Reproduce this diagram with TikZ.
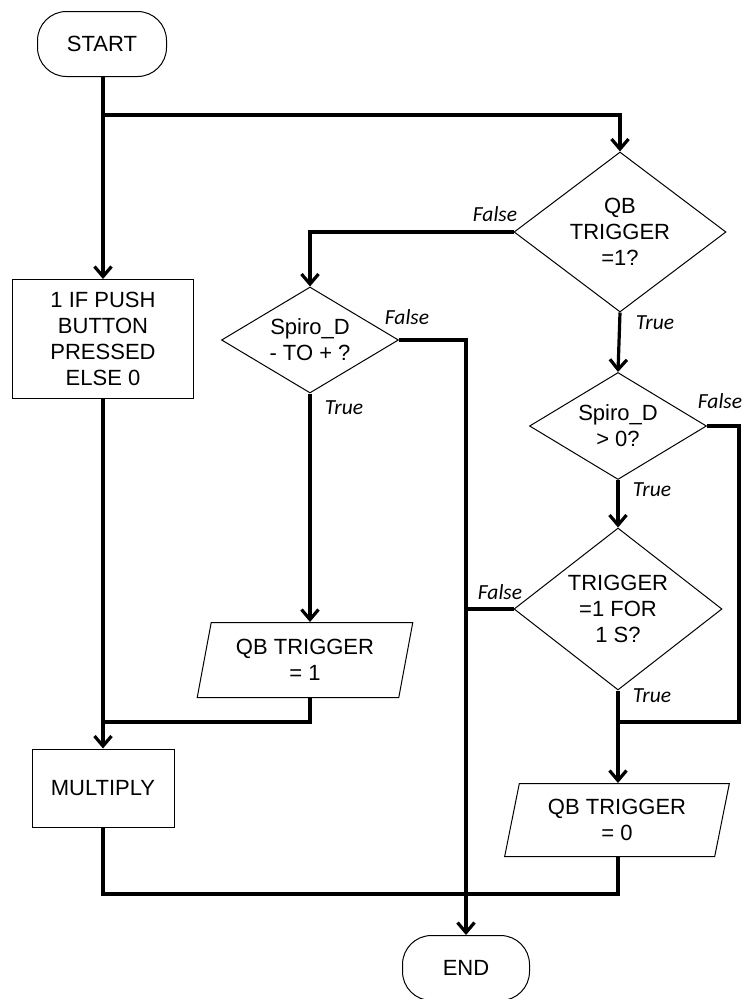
\documentclass[tikz,border=0pt]{standalone}
\usepackage{fontspec}
\setmainfont{Liberation Sans}
\newfontfamily\lblfont{Carlito}
\usetikzlibrary{arrows.meta, shapes.geometric, positioning}
\tikzset{>={Straight Barb[length=10pt,width=17pt]}}
\tikzset{font=\fontsize{22}{26}\selectfont}
\tikzset{
  terminal/.style={draw, line width=1pt, rounded corners=29pt,
    minimum width=129pt, minimum height=65pt},
  procbox/.style={draw, line width=1pt, align=center,
    inner sep=0pt},
  decide/.style={draw, diamond, line width=1pt, align=center,
    inner sep=0pt},
  iobox/.style={draw, trapezium, trapezium left angle=76,
    trapezium right angle=104, trapezium stretches=true,
    line width=1pt, align=center, inner sep=0pt},
  flow/.style={->, line width=3.2pt},
  wire/.style={line width=3.2pt},
  branch/.style={font=\lblfont\itshape\fontsize{21.5}{24}\selectfont, inner sep=0pt}
}

\begin{document}
\begin{tikzpicture}[x=1pt, y=-1pt]
          \useasboundingbox (0,0) rectangle (742,999);
          % shapes
          \node[terminal] (start) at (102,44) {START};
          \node[procbox, minimum width=181pt, minimum height=119pt] (push) at (103,339)
            {1 IF PUSH\\BUTTON\\PRESSED\\ELSE 0};
          \node[procbox, minimum width=142pt, minimum height=78pt] (mult) at (103,788) {MULTIPLY};
          \node[decide, shape aspect=1.32, minimum width=212pt, minimum height=160pt] (qb) at (620,232)
            {QB\\TRIGGER\\=1?};
          \node[decide, shape aspect=1.67, minimum width=177pt, minimum height=106pt] (spiroa) at (310,340)
            {Spiro\_D\\- TO + ?};
          \node[iobox, minimum width=216pt, minimum height=75pt] (seta) at (305,660)
            {QB TRIGGER\\= 1};
          \node[decide, shape aspect=1.67, minimum width=177pt, minimum height=107pt] (spirob) at (618,426)
            {Spiro\_D\\> 0?};
          \node[decide, shape aspect=1.28, minimum width=208pt, minimum height=162pt] (trig) at (618,609)
            {TRIGGER\\=1 FOR\\1 S?};
          \node[iobox, minimum width=225pt, minimum height=73pt] (setz) at (617,820)
            {QB TRIGGER\\= 0};
          \node[terminal, minimum width=127pt] (stop) at (466,968) {END};
          % joints
          \coordinate (split) at (103,115);
          \coordinate (joinl) at (103,722);
          \coordinate (joinr) at (618,722);
          \coordinate (rail) at (739,722);
          \coordinate (joinb) at (466,894);
          % connectors
          \draw[flow] (start.south -| push) -- (push);
          \draw[flow] (split) -| (qb.north);
          \draw[flow] (qb.west) -| (spiroa.north);
          \draw[flow] (spiroa.south) -- (spiroa.south |- seta.north);
          \draw[flow] (spiroa.east) -| (stop.north);
          \draw[wire] (seta.south -| spiroa.south) |- (joinl);
          \draw[flow] (push) -- (mult);
          \draw[wire] (mult.south) |- (joinb);
          \draw[flow] (qb.south) -- (spirob.north);
          \draw[wire] (spirob.east) -| (rail) -- (joinr);
          \draw[flow] (spirob.south) -- (trig.north);
          \draw[wire] (trig.west) -- (trig.west -| stop.north);
          \draw[flow] (trig.south) -- (trig.south |- setz.north);
          \draw[wire] (setz.south -| trig.south) |- (joinb);
          % branch labels
          \node[branch] (qbf) at (495,214) {False};
          \node[branch] (qbt) at (655,323) {True};
          \node[branch] (saf) at (407,317) {False};
          \node[branch] (sat) at (344,408) {True};
          \node[branch] (sbf) at (720,401) {False};
          \node[branch] (sbt) at (652,490) {True};
          \node[branch] (trf) at (500,592) {False};
          \node[branch] (trt) at (652,696) {True};
        \end{tikzpicture}
\end{document}
